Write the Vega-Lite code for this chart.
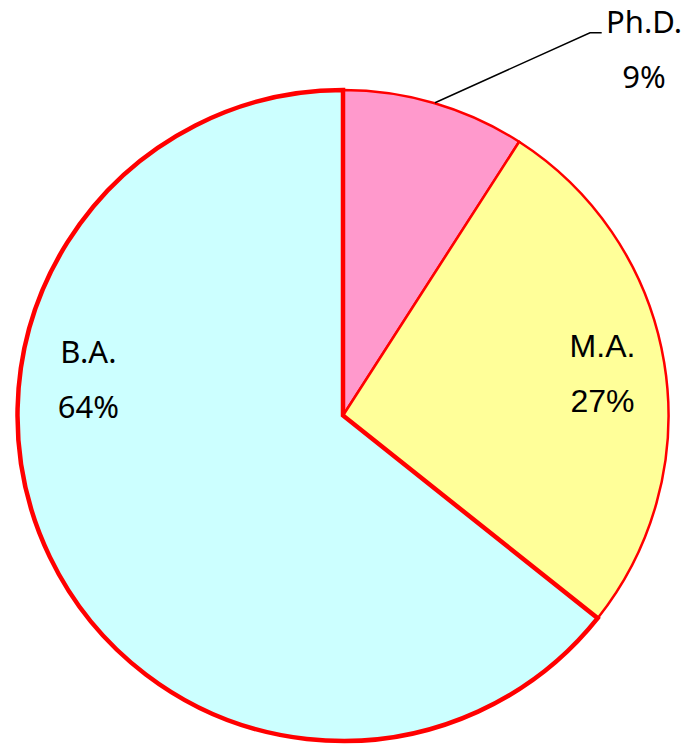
{
  "$schema": "https://vega.github.io/schema/vega-lite/v6.json",
  "width": 686,
  "height": 661,
  "autosize": {"type": "none"},
  "padding": {"left": 0, "right": 0, "top": 85, "bottom": 0},
  "background": "white",
  "config": {"view": {"stroke": null}},
  "data": {"values": [
    {"degree": "Ph.D.", "share": 0.091},
    {"degree": "M.A.", "share": 0.266},
    {"degree": "B.A.", "share": 0.643}
  ]},
  "layer": [
    {
      "mark": {"type": "arc", "outerRadius": 325.5, "stroke": "#FF0000"},
      "encoding": {
        "theta": {"field": "share", "type": "quantitative", "stack": true},
        "order": {"field": "share", "type": "quantitative", "sort": "ascending"},
        "color": {"field": "degree", "type": "nominal", "scale": {"domain": ["Ph.D.", "M.A.", "B.A."], "range": ["#FF99CC", "#FFFF99", "#CCFFFF"]}, "legend": null},
        "strokeWidth": {"condition": {"test": "datum.degree === 'B.A.'", "value": 4.5}, "value": 2.5}
      }
    },
    {
      "data": {"values": [
        {"px": 92, "py": 312.8},
        {"px": 247, "py": 382.8},
        {"px": 258.7, "py": 382.8}
      ]},
      "mark": {"type": "line", "color": "#000000", "strokeWidth": 1.5},
      "encoding": {
        "x": {"field": "px", "type": "quantitative", "scale": {"domain": [-343, 343], "nice": false, "zero": false}, "axis": null},
        "y": {"field": "py", "type": "quantitative", "scale": {"domain": [-330.5, 330.5], "nice": false, "zero": false}, "axis": null}
      }
    },
    {
      "mark": {"type": "text", "radius": 360, "dx": 199.5, "dy": -37.1, "font": "Noto Sans", "fontSize": 31, "baseline": "alphabetic", "align": "center", "color": "#000000"},
      "encoding": {
        "theta": {"field": "share", "type": "quantitative", "stack": true},
        "order": {"field": "share", "type": "quantitative", "sort": "ascending"},
        "text": {"condition": {"test": "datum.degree === 'Ph.D.'", "field": "degree"}, "value": ""}
      }
    },
    {
      "mark": {"type": "text", "radius": 360, "dx": 199.5, "dy": 17.9, "font": "Noto Sans", "fontSize": 31, "baseline": "alphabetic", "align": "center", "color": "#000000"},
      "encoding": {
        "theta": {"field": "share", "type": "quantitative", "stack": true},
        "order": {"field": "share", "type": "quantitative", "sort": "ascending"},
        "text": {"condition": {"test": "datum.degree === 'Ph.D.'", "field": "share", "type": "quantitative", "format": ".0%"}, "value": ""}
      }
    },
    {
      "mark": {"type": "text", "radius": 263, "dx": 0, "dy": -16, "font": "Liberation Sans", "fontSize": 32, "baseline": "alphabetic", "align": "center", "color": "#000000"},
      "encoding": {
        "theta": {"field": "share", "type": "quantitative", "stack": true},
        "order": {"field": "share", "type": "quantitative", "sort": "ascending"},
        "text": {"condition": {"test": "datum.degree === 'M.A.'", "field": "degree"}, "value": ""}
      }
    },
    {
      "mark": {"type": "text", "radius": 263, "dx": 0, "dy": 39, "font": "Liberation Sans", "fontSize": 32, "baseline": "alphabetic", "align": "center", "color": "#000000"},
      "encoding": {
        "theta": {"field": "share", "type": "quantitative", "stack": true},
        "order": {"field": "share", "type": "quantitative", "sort": "ascending"},
        "text": {"condition": {"test": "datum.degree === 'M.A.'", "field": "share", "type": "quantitative", "format": ".0%"}, "value": ""}
      }
    },
    {
      "mark": {"type": "text", "radius": 255, "dx": -25, "dy": -163.3, "font": "Noto Sans", "fontSize": 31, "baseline": "alphabetic", "align": "center", "color": "#000000"},
      "encoding": {
        "theta": {"field": "share", "type": "quantitative", "stack": true},
        "order": {"field": "share", "type": "quantitative", "sort": "ascending"},
        "text": {"condition": {"test": "datum.degree === 'B.A.'", "field": "degree"}, "value": ""}
      }
    },
    {
      "mark": {"type": "text", "radius": 255, "dx": -25, "dy": -108.3, "font": "Noto Sans", "fontSize": 31, "baseline": "alphabetic", "align": "center", "color": "#000000"},
      "encoding": {
        "theta": {"field": "share", "type": "quantitative", "stack": true},
        "order": {"field": "share", "type": "quantitative", "sort": "ascending"},
        "text": {"condition": {"test": "datum.degree === 'B.A.'", "field": "share", "type": "quantitative", "format": ".0%"}, "value": ""}
      }
    }
  ]
}
